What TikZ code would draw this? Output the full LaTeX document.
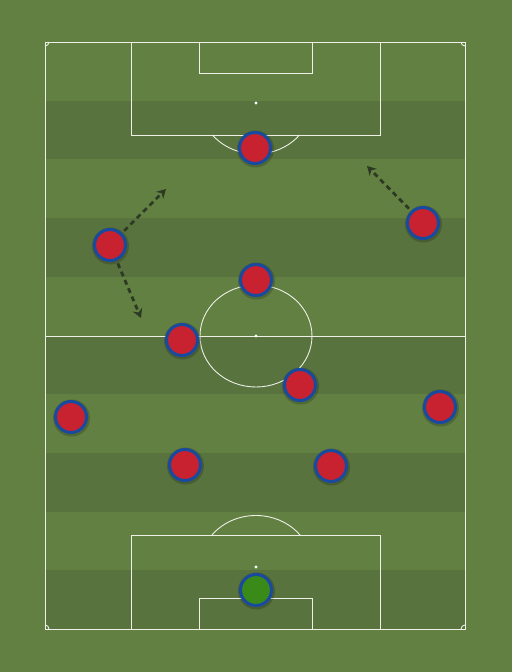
\documentclass[tikz,border=0pt]{standalone}
\usetikzlibrary{arrows.meta}
\definecolor{grassL}{RGB}{98,128,66}
\definecolor{grassD}{RGB}{88,115,62}
\definecolor{shirt}{RGB}{200,33,47}
\definecolor{rim}{RGB}{24,74,160}
\definecolor{keeper}{RGB}{58,138,26}
\definecolor{arrowc}{RGB}{44,58,36}
\definecolor{linec}{RGB}{238,240,232}
\tikzset{
  pline/.style={draw=linec, line width=0.9pt},
  player/.style={circle, inner sep=0pt, minimum size=31pt, draw=rim, line width=3pt, fill=shirt},
  gk/.style={player, fill=keeper},
  shade/.style={fill=black, opacity=0.18},
  move/.style={draw=arrowc, line width=2.8pt, dash pattern=on 5pt off 4pt, -{Stealth[length=9pt,width=10pt]}, shorten <=3pt},
}
\begin{document}
\begin{tikzpicture}[x=1pt,y=-1pt]
\fill[grassL] (0,0) rectangle (512,672);
\useasboundingbox (0,0) rectangle (512,672);
% stripes
\foreach \i in {1,3,5,7,9}{
  \fill[grassD] (45,{42+\i*58.7}) rectangle (465,{42+(\i+1)*58.7});
}
% outline and halfway
\draw[pline] (45,42) rectangle (465,629);
\draw[pline] (45,336) -- (465,336);
\draw[pline] (256,336) ellipse [x radius=56, y radius=51];
\fill[white] (256,336) circle (1.6);
% top boxes
\draw[pline] (131,42) rectangle (380,135);
\draw[pline] (199,42) rectangle (312,73);
\fill[white] (256,103) circle (1.6);
\draw[pline] (212.4,135) arc[start angle=141.1,end angle=38.9,x radius=56,y radius=51];
% bottom boxes
\draw[pline] (131,629) rectangle (380,535.5);
\draw[pline] (199,629) rectangle (312,598);
\fill[white] (256,567) circle (1.6);
\draw[pline] (211.5,535.5) arc[start angle=217.4,end angle=322.6,x radius=56,y radius=51];
% corner arcs
\draw[pline] (49,42) arc[start angle=0,end angle=90,radius=4];
\draw[pline] (461,42) arc[start angle=180,end angle=90,radius=4];
\draw[pline] (49,629) arc[start angle=0,end angle=-90,radius=4];
\draw[pline] (461,629) arc[start angle=180,end angle=270,radius=4];
% shadows
\foreach \x/\y in {255/148,110/245,423/223,256/280,182/340,300/385,71/417,440/407,185/465,331/466,256/590}{
  \fill[shade] (\x+0.5,\y+1) circle (18.5);
}
% players
\node[player] (p1) at (255,148) {};
\node[player] (p2) at (110,245) {};
\node[player] (p3) at (423,223) {};
\node[player] (p4) at (256,280) {};
\node[player] (p5) at (182,340) {};
\node[player] (p6) at (300,385) {};
\node[player] (p7) at (71,417) {};
\node[player] (p8) at (440,407) {};
\node[player] (p9) at (185,465) {};
\node[player] (p10) at (331,466) {};
\node[gk] (g) at (256,590) {};
% runs
\coordinate (a1) at (166,189);
\coordinate (a2) at (141,318);
\coordinate (a3) at (367,166);
\draw[move] (p2) -- (a1);
\draw[move] (p2) -- (a2);
\draw[move] (p3) -- (a3);
\end{tikzpicture}
\end{document}
